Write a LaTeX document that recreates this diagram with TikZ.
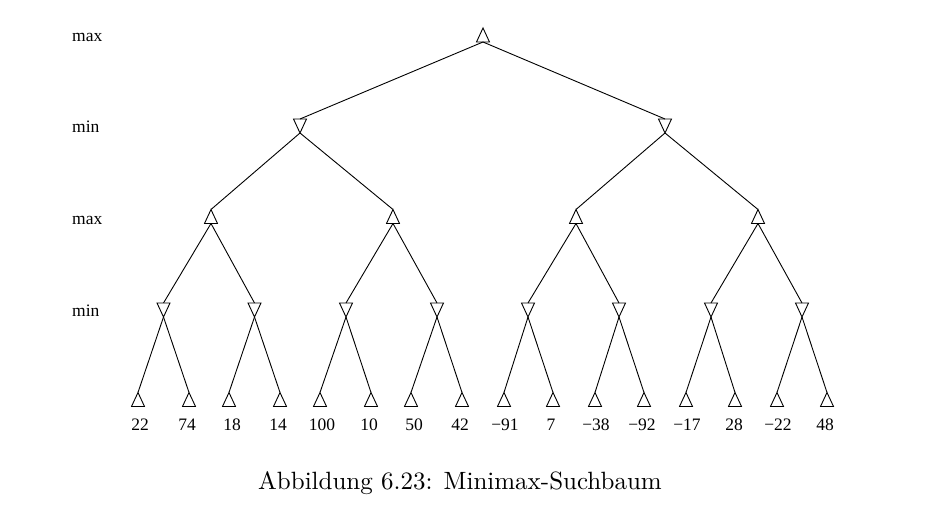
\documentclass[tikz,border=0pt]{standalone}
\usepackage{fontspec}
\newfontfamily\tnr{Liberation Serif}
\newfontfamily\capfont{lmroman10-regular.otf}
\newcommand\maxtri[3]{%
  \coordinate (#1) at (#2,#3);
  \coordinate (#1-in) at (#2,#3-7);
  \coordinate (#1-out) at (#2,#3+7);
  \draw[tri] (#1-in) -- ++(-6.5,14) -- ++(13,0) -- cycle;
}
\newcommand\mintri[3]{%
  \coordinate (#1) at (#2,#3);
  \coordinate (#1-in) at (#2,#3-7);
  \coordinate (#1-out) at (#2,#3+7);
  \draw[tri] (#1-out) -- ++(-6.5,-14) -- ++(13,0) -- cycle;
}
\tikzset{
  tri/.style={line width=0.9pt, line join=miter},
  edge/.style={line width=0.9pt},
  levlab/.style={anchor=base west, inner sep=0pt, font=\tnr\fontsize{17.5}{20}\selectfont},
  leaflab/.style={anchor=base, inner sep=0pt, font=\tnr\fontsize{17.5}{20}\selectfont},
  caption/.style={anchor=base, inner sep=0pt, font=\capfont\fontsize{25}{30}\selectfont}
}
\begin{document}
\begin{tikzpicture}[x=1pt,y=-1pt]
\path[use as bounding box] (0,0) rectangle (943,524);
% level labels
\node[levlab] (l0) at (72,42) {max};
\node[levlab] (l1) at (72,133) {min};
\node[levlab] (l2) at (72,224) {max};
\node[levlab] (l3) at (72,316) {min};
% root
\maxtri{r}{483}{35}
% level 1
\mintri{a}{300}{126}
\mintri{b}{665}{126}
% level 2
\maxtri{aa}{211}{216.5}
\maxtri{ab}{393}{216.5}
\maxtri{ba}{576}{216.5}
\maxtri{bb}{758}{216.5}
% level 3
\mintri{c1}{163.5}{310}
\mintri{c2}{254.5}{310}
\mintri{c3}{346}{310}
\mintri{c4}{437}{310}
\mintri{c5}{528}{310}
\mintri{c6}{619}{310}
\mintri{c7}{711}{310}
\mintri{c8}{802}{310}
% leaves
\maxtri{d1}{138}{399.5}
\maxtri{d2}{189}{399.5}
\maxtri{d3}{229}{399.5}
\maxtri{d4}{280}{399.5}
\maxtri{d5}{320}{399.5}
\maxtri{d6}{371}{399.5}
\maxtri{d7}{411}{399.5}
\maxtri{d8}{462}{399.5}
\maxtri{d9}{504}{399.5}
\maxtri{d10}{553}{399.5}
\maxtri{d11}{595}{399.5}
\maxtri{d12}{644}{399.5}
\maxtri{d13}{686}{399.5}
\maxtri{d14}{735}{399.5}
\maxtri{d15}{777}{399.5}
\maxtri{d16}{827}{399.5}
% edges
\draw[edge] (r-out) -- (a-in);
\draw[edge] (r-out) -- (b-in);
\draw[edge] (a-out) -- (aa-in);
\draw[edge] (a-out) -- (ab-in);
\draw[edge] (b-out) -- (ba-in);
\draw[edge] (b-out) -- (bb-in);
\draw[edge] (aa-out) -- (c1-in);
\draw[edge] (aa-out) -- (c2-in);
\draw[edge] (ab-out) -- (c3-in);
\draw[edge] (ab-out) -- (c4-in);
\draw[edge] (ba-out) -- (c5-in);
\draw[edge] (ba-out) -- (c6-in);
\draw[edge] (bb-out) -- (c7-in);
\draw[edge] (bb-out) -- (c8-in);
\draw[edge] (c1-out) -- (d1-in);
\draw[edge] (c1-out) -- (d2-in);
\draw[edge] (c2-out) -- (d3-in);
\draw[edge] (c2-out) -- (d4-in);
\draw[edge] (c3-out) -- (d5-in);
\draw[edge] (c3-out) -- (d6-in);
\draw[edge] (c4-out) -- (d7-in);
\draw[edge] (c4-out) -- (d8-in);
\draw[edge] (c5-out) -- (d9-in);
\draw[edge] (c5-out) -- (d10-in);
\draw[edge] (c6-out) -- (d11-in);
\draw[edge] (c6-out) -- (d12-in);
\draw[edge] (c7-out) -- (d13-in);
\draw[edge] (c7-out) -- (d14-in);
\draw[edge] (c8-out) -- (d15-in);
\draw[edge] (c8-out) -- (d16-in);
% leaf values
\node[leaflab] (v1) at (140,430) {22};
\node[leaflab] (v2) at (187,430) {74};
\node[leaflab] (v3) at (232,430) {18};
\node[leaflab] (v4) at (278,430) {14};
\node[leaflab] (v5) at (322,430) {100};
\node[leaflab] (v6) at (369,430) {10};
\node[leaflab] (v7) at (414,430) {50};
\node[leaflab] (v8) at (460,430) {42};
\node[leaflab] (v9) at (505,430) {−91};
\node[leaflab] (v10) at (551,430) {7};
\node[leaflab] (v11) at (596,430) {−38};
\node[leaflab] (v12) at (642,430) {−92};
\node[leaflab] (v13) at (687,430) {−17};
\node[leaflab] (v14) at (734,430) {28};
\node[leaflab] (v15) at (778,430) {−22};
\node[leaflab] (v16) at (825,430) {48};
% caption
\node[caption] (cap) at (460,489) {Abbildung 6.23: Minimax-Suchbaum};
\end{tikzpicture}
\end{document}
